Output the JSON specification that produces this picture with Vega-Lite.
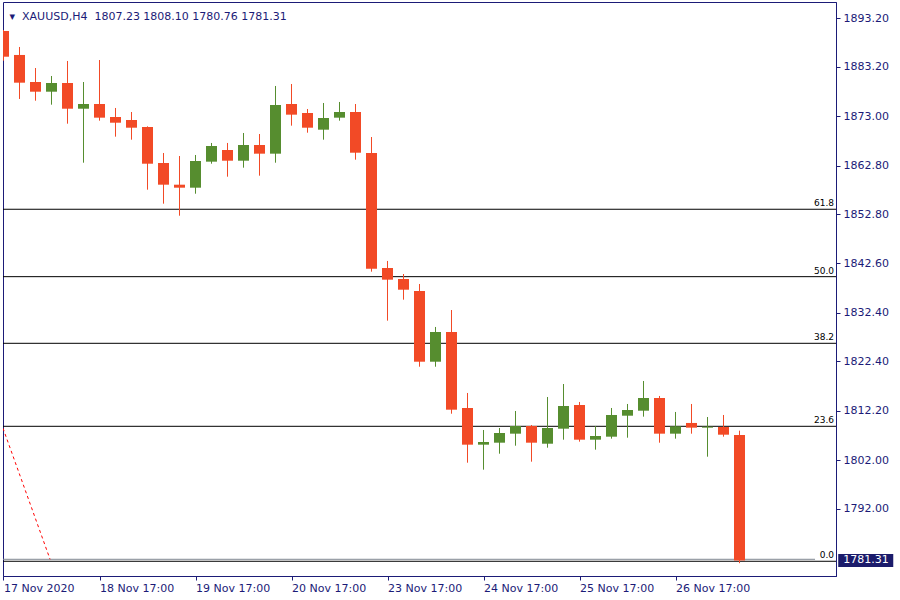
{
  "$schema": "https://vega.github.io/schema/vega-lite/v6.json",
  "width": 833,
  "height": 574,
  "autosize": {"type": "none"},
  "padding": {"left": 3, "top": 2, "right": 64, "bottom": 24},
  "background": "white",
  "config": {"view": {"stroke": "#1b1b77", "strokeWidth": 1}, "font": "DejaVu Sans", "scale": {"continuousPadding": 0}},
  "title": {"text": "▾\u00a0\u00a0XAUUSD,H4\u00a0 1807.23 1808.10 1780.76 1781.31", "anchor": "start", "frame": "group", "offset": -15, "dy": 14, "dx": 6.5, "baseline": "alphabetic", "font": "DejaVu Sans", "fontSize": 11, "fontWeight": "normal", "color": "#1b1b77"},
  "datasets": {
    "candles": [
      {"i": 0, "o": 1890.58, "h": 1890.78, "l": 1884.45, "c": 1885.27},
      {"i": 1, "o": 1885.63, "h": 1887.28, "l": 1876.55, "c": 1879.91},
      {"i": 2, "o": 1880.05, "h": 1882.94, "l": 1876.19, "c": 1878.05},
      {"i": 3, "o": 1878.05, "h": 1881.29, "l": 1875.37, "c": 1879.85},
      {"i": 4, "o": 1879.85, "h": 1884.39, "l": 1871.45, "c": 1874.54},
      {"i": 5, "o": 1874.54, "h": 1880.05, "l": 1863.40, "c": 1875.51},
      {"i": 6, "o": 1875.51, "h": 1884.59, "l": 1872.07, "c": 1872.69},
      {"i": 7, "o": 1872.83, "h": 1874.69, "l": 1868.77, "c": 1871.65},
      {"i": 8, "o": 1872.21, "h": 1873.86, "l": 1868.15, "c": 1870.62},
      {"i": 9, "o": 1870.77, "h": 1870.90, "l": 1857.83, "c": 1863.19},
      {"i": 10, "o": 1863.34, "h": 1865.40, "l": 1854.94, "c": 1858.86},
      {"i": 11, "o": 1858.86, "h": 1864.78, "l": 1852.46, "c": 1858.24},
      {"i": 12, "o": 1858.24, "h": 1864.99, "l": 1857.00, "c": 1863.75},
      {"i": 13, "o": 1863.61, "h": 1867.47, "l": 1863.19, "c": 1866.85},
      {"i": 14, "o": 1866.02, "h": 1867.47, "l": 1860.51, "c": 1863.81},
      {"i": 15, "o": 1863.81, "h": 1869.53, "l": 1862.37, "c": 1867.05},
      {"i": 16, "o": 1867.05, "h": 1869.32, "l": 1860.72, "c": 1865.26},
      {"i": 17, "o": 1865.26, "h": 1879.23, "l": 1863.40, "c": 1875.31},
      {"i": 18, "o": 1875.51, "h": 1879.64, "l": 1871.04, "c": 1873.31},
      {"i": 19, "o": 1873.66, "h": 1874.48, "l": 1869.59, "c": 1870.62},
      {"i": 20, "o": 1870.21, "h": 1875.72, "l": 1868.15, "c": 1872.62},
      {"i": 21, "o": 1872.69, "h": 1875.93, "l": 1872.07, "c": 1873.86},
      {"i": 22, "o": 1873.86, "h": 1875.51, "l": 1864.02, "c": 1865.46},
      {"i": 23, "o": 1865.40, "h": 1868.70, "l": 1840.91, "c": 1841.53},
      {"i": 24, "o": 1841.67, "h": 1843.12, "l": 1830.80, "c": 1839.26},
      {"i": 25, "o": 1839.40, "h": 1840.43, "l": 1835.13, "c": 1837.19},
      {"i": 26, "o": 1836.92, "h": 1838.37, "l": 1821.30, "c": 1822.33},
      {"i": 27, "o": 1822.33, "h": 1829.50, "l": 1821.30, "c": 1828.46},
      {"i": 28, "o": 1828.46, "h": 1833.00, "l": 1811.60, "c": 1812.43},
      {"i": 29, "o": 1812.78, "h": 1815.88, "l": 1801.49, "c": 1805.21},
      {"i": 30, "o": 1805.21, "h": 1808.24, "l": 1800.05, "c": 1805.76},
      {"i": 31, "o": 1805.62, "h": 1808.65, "l": 1803.35, "c": 1807.62},
      {"i": 32, "o": 1807.48, "h": 1812.16, "l": 1805.00, "c": 1809.07},
      {"i": 33, "o": 1809.07, "h": 1809.27, "l": 1801.70, "c": 1805.62},
      {"i": 34, "o": 1805.41, "h": 1815.05, "l": 1804.59, "c": 1808.65},
      {"i": 35, "o": 1808.51, "h": 1817.73, "l": 1806.24, "c": 1813.19},
      {"i": 36, "o": 1813.40, "h": 1814.02, "l": 1805.83, "c": 1806.24},
      {"i": 37, "o": 1806.24, "h": 1809.07, "l": 1804.18, "c": 1807.00},
      {"i": 38, "o": 1806.86, "h": 1812.78, "l": 1806.45, "c": 1811.34},
      {"i": 39, "o": 1811.19, "h": 1813.61, "l": 1806.65, "c": 1812.37},
      {"i": 40, "o": 1812.22, "h": 1818.35, "l": 1810.99, "c": 1814.84},
      {"i": 41, "o": 1814.84, "h": 1815.26, "l": 1805.62, "c": 1807.48},
      {"i": 42, "o": 1807.48, "h": 1811.96, "l": 1806.45, "c": 1809.00},
      {"i": 43, "o": 1809.69, "h": 1813.61, "l": 1807.48, "c": 1808.72},
      {"i": 44, "o": 1808.72, "h": 1810.92, "l": 1802.73, "c": 1808.92},
      {"i": 45, "o": 1808.86, "h": 1811.34, "l": 1806.86, "c": 1807.27},
      {"i": 46, "o": 1807.23, "h": 1808.10, "l": 1780.76, "c": 1781.31}
    ],
    "fib": [
      {"level": "61.8", "price": 1853.79},
      {"level": "50.0", "price": 1839.88},
      {"level": "38.2", "price": 1826.13},
      {"level": "23.6", "price": 1809.00},
      {"level": "0.0", "price": 1781.15}
    ],
    "trend": [
      {"i": -0.03, "p": 1808.59},
      {"i": 2.91, "p": 1781.56}
    ],
    "last": [{"price": 1781.31}]
  },
  "layer": [
    {
      "data": {"name": "fib"},
      "mark": {"type": "rule", "color": "#000000", "strokeWidth": 1},
      "encoding": {
        "y": {"field": "price", "type": "quantitative", "scale": {"domain": [1778.11, 1896.56], "nice": false, "zero": false, "padding": 0},
          "axis": {"orient": "right", "values": [1792, 1802, 1812.2, 1822.4, 1832.4, 1842.6, 1852.8, 1862.8, 1873, 1883.2, 1893.2], "format": ".2f", "title": null, "grid": false, "domainColor": "#1b1b77", "tickColor": "#1b1b77", "tickSize": 4, "labelColor": "#1b1b77", "labelFont": "DejaVu Sans", "labelFontSize": 11, "labelPadding": 3, "labelOverlap": false, "labelBound": false, "labelFlush": false}}
      }
    },
    {
      "data": {"name": "last"},
      "mark": {"type": "rule", "color": "#7f8790", "strokeWidth": 1},
      "encoding": {
        "x": {"datum": -0.03125, "type": "quantitative", "scale": {"domain": [-0.03125, 52.03125], "nice": false, "zero": false, "padding": 0}},
        "x2": {"datum": 50.72},
        "y": {"datum": 1781.56, "type": "quantitative"}
      }
    },
    {
      "data": {"name": "trend"},
      "mark": {"type": "line", "color": "#ff0000", "strokeWidth": 1, "strokeDash": [3, 3], "clip": true},
      "encoding": {
        "x": {"field": "i", "type": "quantitative"},
        "y": {"field": "p", "type": "quantitative"}
      }
    },
    {
      "data": {"name": "candles"},
      "mark": {"type": "rule", "strokeWidth": 1, "clip": true},
      "encoding": {
        "x": {"field": "i", "type": "quantitative", "scale": {"domain": [-0.03125, 52.03125], "nice": false, "zero": false, "padding": 0},
          "axis": {"values": [0, 6, 12, 18, 24, 30, 36, 42], "title": null, "grid": false, "domainColor": "#1b1b77", "tickColor": "#1b1b77", "tickSize": 4, "labelColor": "#1b1b77", "labelFont": "DejaVu Sans", "labelFontSize": 11, "labelAlign": "left", "labelBaseline": "top", "labelPadding": 2, "labelFlush": false, "labelOverlap": false, "labelBound": false,
            "labelExpr": "['17 Nov 2020','18 Nov 17:00','19 Nov 17:00','20 Nov 17:00','23 Nov 17:00','24 Nov 17:00','25 Nov 17:00','26 Nov 17:00'][round(datum.value/6)]"}},
        "y": {"field": "l", "type": "quantitative"},
        "y2": {"field": "h"},
        "color": {"condition": {"test": "datum.c >= datum.o", "value": "#568d2f"}, "value": "#f24a26"}
      }
    },
    {
      "data": {"name": "candles"},
      "mark": {"type": "bar", "size": 11, "clip": true},
      "encoding": {
        "x": {"field": "i", "type": "quantitative"},
        "y": {"field": "o", "type": "quantitative"},
        "y2": {"field": "c"},
        "color": {"condition": {"test": "datum.c >= datum.o", "value": "#568d2f"}, "value": "#f24a26"}
      }
    },
    {
      "data": {"name": "fib"},
      "mark": {"type": "text", "align": "right", "baseline": "alphabetic", "dx": -2, "dy": -3, "font": "DejaVu Sans", "fontSize": 9, "color": "#000000"},
      "encoding": {
        "x": {"datum": 52.03125, "type": "quantitative"},
        "y": {"field": "price", "type": "quantitative"},
        "text": {"field": "level"}
      }
    },
    {
      "data": {"name": "last"},
      "mark": {"type": "bar", "size": 13, "color": "#1b1b6b"},
      "encoding": {
        "x": {"datum": 52.17, "type": "quantitative"},
        "x2": {"datum": 55.61},
        "y": {"field": "price", "type": "quantitative"}
      }
    },
    {
      "data": {"name": "last"},
      "mark": {"type": "text", "align": "left", "baseline": "middle", "dx": 5, "font": "DejaVu Sans", "fontSize": 11, "color": "#ffffff"},
      "encoding": {
        "x": {"datum": 52.17, "type": "quantitative"},
        "y": {"field": "price", "type": "quantitative"},
        "text": {"field": "price", "type": "quantitative", "format": ".2f"}
      }
    }
  ]
}
